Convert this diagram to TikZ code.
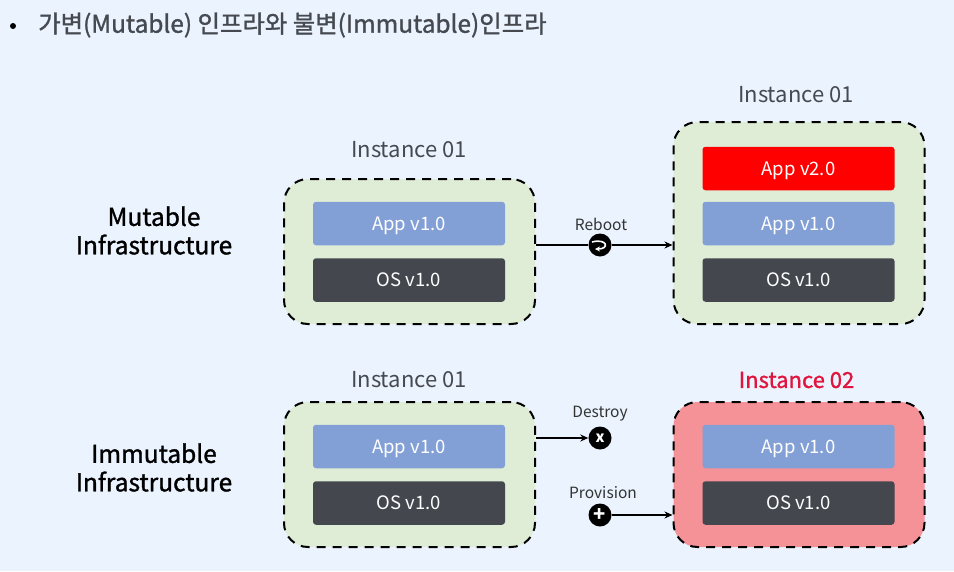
\documentclass[tikz,border=0pt]{standalone}
\usepackage{fontspec}
\setmainfont{Noto Sans CJK KR}
\newfontfamily\medfont[FakeBold=1.2]{Noto Sans CJK KR}
\usepackage{xcolor}
\usetikzlibrary{arrows.meta, calc}
\definecolor{pagecolor}{RGB}{235, 243, 254}
\definecolor{instcolor}{RGB}{223, 237, 214}
\definecolor{redinstcolor}{RGB}{244, 146, 152}
\definecolor{appcolor}{RGB}{131, 160, 214}
\definecolor{oscolor}{RGB}{68, 72, 78}
\definecolor{newappcolor}{RGB}{255, 0, 0}
\definecolor{textcolor}{RGB}{70, 74, 80}
\definecolor{alertcolor}{RGB}{224, 20, 60}
\tikzset{
    instance/.style={draw=black, line width=2pt, dash pattern=on 9pt off 7pt, rounded corners=24pt, minimum width=251pt, minimum height=145pt, inner sep=0pt},
    layer/.style={rounded corners=3pt, minimum width=192pt, minimum height=43.5pt, inner sep=0pt, text=white, text height=13.5pt, text depth=0pt, font=\fontsize{18.5}{20}\selectfont},
    inst label/.style={text=textcolor, inner sep=0pt, font=\fontsize{22}{24}\selectfont},
    row label/.style={align=center, inner sep=0pt, font=\medfont\fontsize{24.5}{28.5}\selectfont},
    action/.style={circle, fill=black, minimum size=23pt, inner sep=0pt, text=white},
    action label/.style={inner sep=0pt, text=black!80, font=\fontsize{15.5}{17}\selectfont},
    link/.style={-{Stealth[length=8pt,width=7pt]}, line width=1.8pt}
}

\begin{document}
\begin{tikzpicture}[x=1pt, y=-1pt]
    % Page
    \fill[pagecolor] (0, 0) rectangle (954, 571);
    \useasboundingbox (0, 0) rectangle (954, 571);

    % Title
    \fill[black] (13, 26) circle (3pt);
    \node[anchor=west, inner sep=0pt, text=textcolor, font=\medfont\fontsize{24.4}{26}\selectfont] (title) at (38, 25) {가변(Mutable) 인프라와 불변(Immutable)인프라};

    % Row labels
    \node[row label] (mutable) at (154, 230.5) {Mutable\\Infrastructure};
    \node[row label] (immutable) at (154, 467.5) {Immutable\\Infrastructure};

    % Mutable, before
    \node[instance, fill=instcolor] (box1) at (409.5, 251.5) {};
    \node[layer, fill=appcolor] (app1) at (409, 223.5) {App v1.0};
    \node[layer, fill=oscolor] (os1) at (409, 280) {OS v1.0};
    \node[inst label] (inst1) at (409, 150) {Instance 01};

    % Mutable, after
    \node[instance, fill=instcolor, minimum height=202pt] (box2) at (799, 223) {};
    \node[layer, fill=newappcolor] (app2new) at (798.5, 168.5) {App v2.0};
    \node[layer, fill=appcolor] (app2) at (798.5, 223.5) {App v1.0};
    \node[layer, fill=oscolor] (os2) at (798.5, 280) {OS v1.0};
    \node[inst label] (inst2) at (796, 95) {Instance 01};

    % Immutable, old
    \node[instance, fill=instcolor] (box3) at (409.5, 474.5) {};
    \node[layer, fill=appcolor] (app3) at (409, 446.5) {App v1.0};
    \node[layer, fill=oscolor] (os3) at (409, 503) {OS v1.0};
    \node[inst label] (inst3) at (409, 380) {Instance 01};

    % Immutable, new
    \node[instance, fill=redinstcolor] (box4) at (799, 474.5) {};
    \node[layer, fill=appcolor] (app4) at (798.5, 446.5) {App v1.0};
    \node[layer, fill=oscolor] (os4) at (798.5, 503) {OS v1.0};
    \node[inst label, text=alertcolor, font=\medfont\fontsize{22}{24}\selectfont] (inst4) at (796.5, 380) {Instance 02};

    % Actions
    \node[action] (reboot) at (600, 245) {};
    \draw[white, line width=1.6pt, -{Stealth[length=5pt,width=5pt]}] ($(reboot)+(-8,-3)$) .. controls ($(reboot)+(7,-7)$) and ($(reboot)+(10,4)$) .. ($(reboot)+(-5,4)$);
    \node[action label] (rebootlabel) at (601, 224) {Reboot};
    \node[action, font=\bfseries\fontsize{15}{15}\selectfont] (destroy) at (600, 438) {x};
    \node[action label] (destroylabel) at (600, 414) {Destroy};
    \node[action, font=\bfseries\fontsize{20}{20}\selectfont] (provision) at (600, 515) {+};
    \node[action label] (provisionlabel) at (603, 493) {Provision};

    % Connectors
    \draw[line width=1.8pt] (box1.east |- reboot) -- (reboot);
    \draw[link] (reboot) -- (box2.west |- reboot);
    \draw[link] (box3.east |- destroy) -- (destroy);
    \draw[link] (provision) -- (box4.west |- provision);
\end{tikzpicture}
\end{document}
